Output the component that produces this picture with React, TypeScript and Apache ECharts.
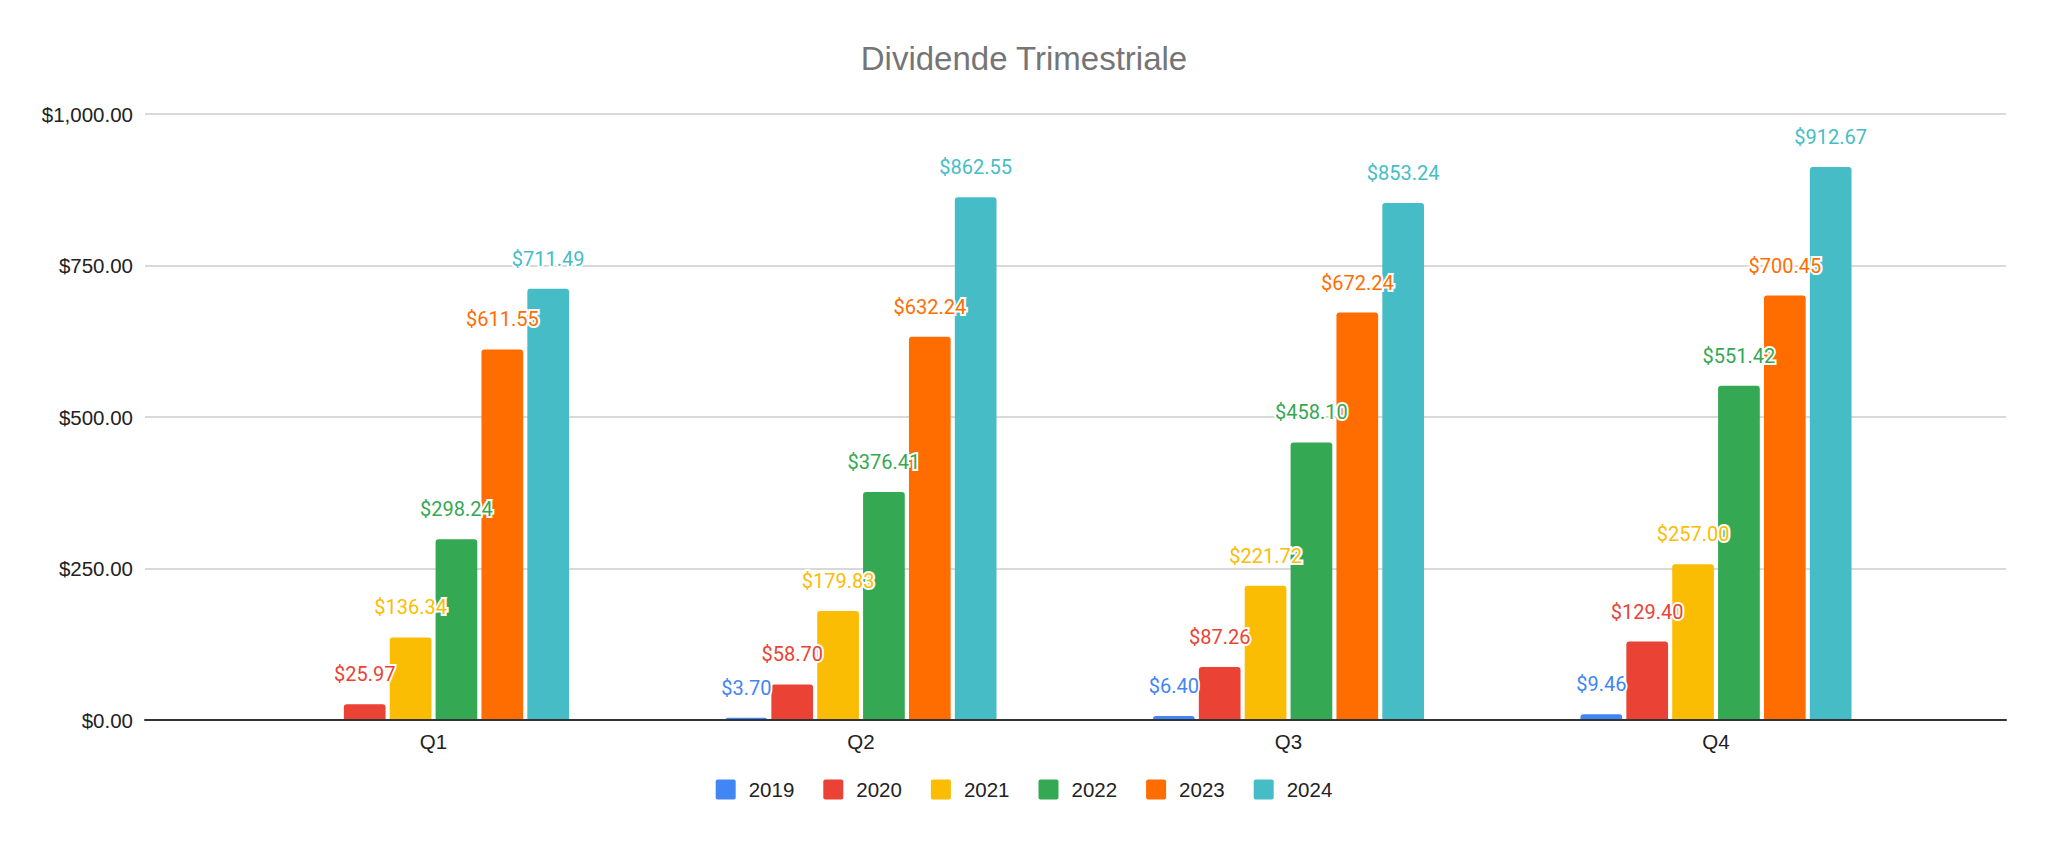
import React, { useEffect, useRef } from "react";
import * as echarts from "echarts";

const categories = ["Q1", "Q2", "Q3", "Q4"];
const seriesNames = ["2019", "2020", "2021", "2022", "2023", "2024"];
const v2019: (number | null)[] = [null, 3.7, 6.4, 9.46];
const v2020 = [25.97, 58.7, 87.26, 129.4];
const v2021 = [136.34, 179.83, 221.72, 257.0];
const v2022 = [298.24, 376.41, 458.1, 551.42];
const v2023 = [611.55, 632.24, 672.24, 700.45];
const v2024 = [711.49, 862.55, 853.24, 912.67];
const colors = ["#4285F4", "#EA4335", "#FBBC04", "#34A853", "#FF6D01", "#46BDC6"];
const yTicks = { min: 0, max: 1000, interval: 250 };

const allValues = [v2019, v2020, v2021, v2022, v2023, v2024];

const fmt = (v: number) =>
  "$" + v.toLocaleString("en-US", { minimumFractionDigits: 2, maximumFractionDigits: 2 });

const squareIcon =
  "path://M2,0 L18,0 Q20,0 20,2 L20,18 Q20,20 18,20 L2,20 Q0,20 0,18 L0,2 Q0,0 2,0 Z";

export default function App() {
  const ref = useRef<HTMLDivElement>(null);
  useEffect(() => {
    if (!ref.current) return;
    const chart = echarts.init(ref.current, undefined, { renderer: "svg" });
    const axisFont = "'Liberation Sans', Arial, sans-serif";
    const option: any = {
      animation: false,
      backgroundColor: "#fff",
      title: {
        text: "Dividende Trimestriale",
        left: "center",
        top: 42,
        padding: 0,
        textStyle: { fontSize: 33, color: "#757575", fontWeight: "normal", fontFamily: axisFont },
      },
      legend: {
        data: seriesNames,
        top: 774,
        left: "center",
        itemWidth: 20,
        itemHeight: 20,
        itemGap: 29,
        icon: squareIcon,
        textStyle: { fontSize: 20.5, color: "#222", fontFamily: axisFont, padding: [0, 0, 0, 8] },
      },
      grid: [
        { left: 219.75, right: 118.25, top: 114, bottom: 121 },
        { left: 145, right: 42, top: 114, bottom: 121 },
      ],
      xAxis: [
        {
          type: "category",
          gridIndex: 0,
          data: categories,
          axisLine: { show: false },
          axisTick: { show: false },
          axisLabel: { fontSize: 20.5, color: "#222", fontFamily: axisFont, margin: 11 },
        },
        {
          type: "value",
          gridIndex: 1,
          min: 0,
          max: 1,
          z: 5,
          axisLine: { show: true, onZero: false, lineStyle: { color: "#333", width: 2 } },
          axisTick: { show: false },
          axisLabel: { show: false },
          splitLine: { show: false },
        },
      ],
      yAxis: [
        {
          type: "value",
          gridIndex: 0,
          ...yTicks,
          show: false,
          splitLine: { show: false },
        },
        {
          type: "value",
          gridIndex: 1,
          ...yTicks,
          axisLine: { show: false },
          axisTick: { show: false },
          axisLabel: {
            fontSize: 20.5,
            color: "#222",
            fontFamily: axisFont,
            margin: 12,
            formatter: (v: number) => fmt(v),
          },
          splitLine: { show: true, lineStyle: { color: "#cccccc", width: 1.5 } },
        },
      ],
      series: seriesNames.map((name, i) => ({
        name,
        type: "bar",
        xAxisIndex: 0,
        yAxisIndex: 0,
        barWidth: 41.7,
        barGap: "10%",
        data: allValues[i].map((v) => (v === null ? "-" : v)),
        itemStyle: { color: colors[i], borderRadius: [3, 3, 0, 0] },
        label: {
          show: true,
          position: "top",
          distance: 20,
          color: colors[i],
          fontSize: 20,
          lineHeight: 20,
          fontFamily: "Roboto, sans-serif",
          textBorderColor: "#fff",
          textBorderWidth: 4,
          formatter: (p: any) => fmt(p.value),
        },
      })),
    };
    chart.setOption(option);
    return () => chart.dispose();
  }, []);
  return (
    <div
      ref={ref}
      style={{ position: "fixed", left: 0, top: 0, width: 2048, height: 841, background: "#fff" }}
    />
  );
}
